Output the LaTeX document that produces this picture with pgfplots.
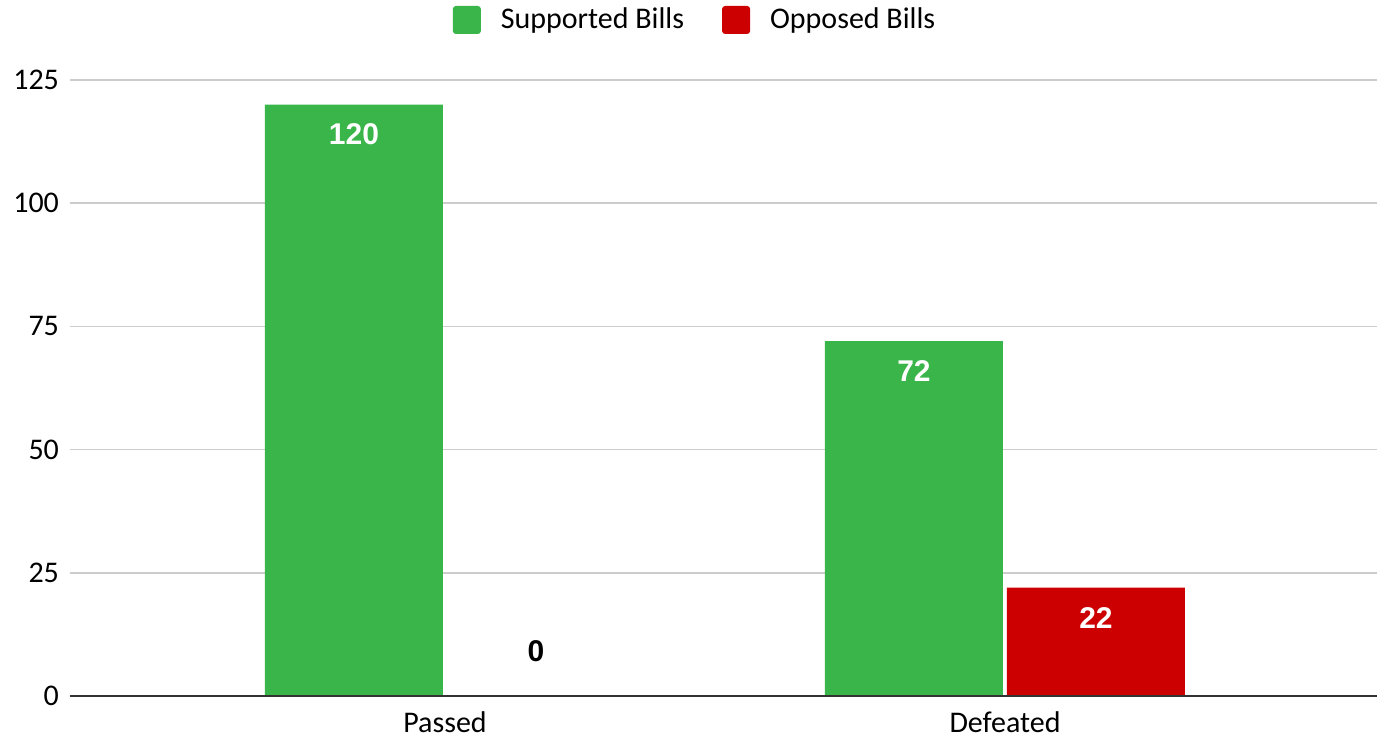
\documentclass[border=0pt]{standalone}
\usepackage{pgfplots}
\pgfplotsset{compat=1.18}
\usepackage{fontspec}
\setmainfont{Carlito}
\newfontfamily\lblfont{Liberation Sans}
\definecolor{cgreen}{HTML}{3AB54A}
\definecolor{cred}{HTML}{CC0000}
\definecolor{cgrid}{HTML}{CCCCCC}
\definecolor{caxis}{HTML}{333333}
\begin{document}
\begin{tikzpicture}
\begin{axis}[
  scale only axis,
  width=653.5pt, height=308pt,
  xmin=-0.6696, xmax=1.6643,
  ymin=0, ymax=125,
  ytick={0,25,50,75,100,125},
  xtick={0,1},
  xticklabels={Passed,Defeated},
  ybar,
  bar width=89pt,
  axis line style={draw=none},
  ymajorgrids,
  grid style={cgrid, line width=0.8pt},
  major tick length=0pt,
  tick label style={font=\fontsize{15}{17}\selectfont, text=black},
  yticklabel style={xshift=-2pt},
  xticklabel style={yshift=-4.5pt},
  /pgf/number format/assume math mode=true,
  legend style={at={(0.479,1)}, anchor=center, yshift=30pt, draw=none,
    font=\fontsize{15}{17}\selectfont, legend columns=2,
    /tikz/every even column/.append style={column sep=17pt}},
  legend image code/.code={\fill[#1, draw=none, rounded corners=1.5pt] (0pt,-7pt) rectangle (14pt,7pt); \path (22pt,0pt);},
  every node near coord/.append style={anchor=center,
    font=\lblfont\bfseries\fontsize{15}{17}\selectfont},
  clip=false,
]
\addplot[fill=cgreen, draw=none, bar shift=-45.5pt,
  nodes near coords, every node near coord/.append style={yshift=-15pt, text=white}]
  coordinates {(0,120) (1,72)};
\addplot[fill=cred, draw=none, bar shift=45.5pt]
  coordinates {(0,0) (1,22)};
\addplot[draw=none, fill=none, bar shift=45.5pt, forget plot,
  nodes near coords, every node near coord/.append style={yshift=-15pt, text=white}]
  coordinates {(1,22)};
\addplot[draw=none, fill=none, bar shift=45.5pt, forget plot,
  nodes near coords, every node near coord/.append style={yshift=22.5pt, text=black}]
  coordinates {(0,0)};
\legend{Supported Bills, Opposed Bills}
\draw[caxis, line width=1.2pt] (axis cs:-0.6696,0) -- (axis cs:1.6643,0);
\end{axis}
\pgfresetboundingbox
\path (current axis.south west) ++(-35pt,-21pt) coordinate (bl);
\path (current axis.north east) ++(0pt,40pt) coordinate (tr);
\useasboundingbox (bl) rectangle (tr);
\end{tikzpicture}
\end{document}
